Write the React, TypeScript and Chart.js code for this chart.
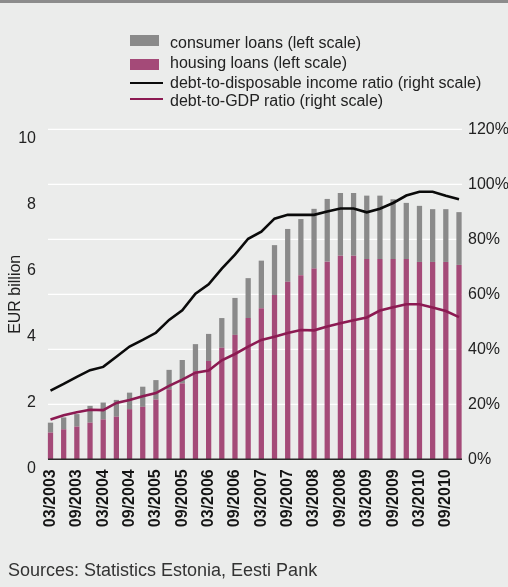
import React, { useEffect, useRef } from "react";
import { Chart, registerables } from "chart.js";

Chart.register(...registerables);

const quarters: string[] = [
  "03/2003", "06/2003", "09/2003", "12/2003",
  "03/2004", "06/2004", "09/2004", "12/2004",
  "03/2005", "06/2005", "09/2005", "12/2005",
  "03/2006", "06/2006", "09/2006", "12/2006",
  "03/2007", "06/2007", "09/2007", "12/2007",
  "03/2008", "06/2008", "09/2008", "12/2008",
  "03/2009", "06/2009", "09/2009", "12/2009",
  "03/2010", "06/2010", "09/2010", "12/2010",
];

const housingLoans: number[] = [
  0.81, 0.91, 0.99, 1.11, 1.21, 1.29, 1.52, 1.59,
  1.81, 2.12, 2.30, 2.67, 2.98, 3.38, 3.77, 4.28,
  4.58, 4.98, 5.38, 5.58, 5.78, 5.99, 6.17, 6.17,
  6.07, 6.07, 6.07, 6.07, 5.98, 5.98, 5.98, 5.89,
];

const consumerLoans: number[] = [
  0.30, 0.36, 0.38, 0.51, 0.51, 0.51, 0.50, 0.61,
  0.59, 0.59, 0.71, 0.82, 0.82, 0.90, 1.12, 1.21,
  1.44, 1.51, 1.60, 1.70, 1.81, 1.90, 1.90, 1.90,
  1.92, 1.92, 1.81, 1.70, 1.70, 1.60, 1.60, 1.60,
];

const debtToIncome: number[] = [
  25.0, 27.4, 30.0, 32.4, 33.6, 37.3, 41.0, 43.4,
  46.0, 50.7, 54.2, 60.2, 63.6, 69.3, 74.4, 80.2,
  82.8, 87.5, 88.9, 88.9, 88.9, 90.1, 91.2, 91.2,
  89.8, 91.1, 93.2, 95.9, 97.3, 97.3, 95.8, 94.6,
];

const debtToGdp: number[] = [
  14.5, 16.0, 17.1, 18.0, 17.9, 20.5, 21.6, 22.9,
  24.1, 26.7, 29.0, 31.5, 32.3, 36.0, 38.3, 41.0,
  43.4, 44.6, 45.9, 47.0, 46.9, 48.3, 49.5, 50.6,
  51.6, 54.1, 55.3, 56.4, 56.4, 55.2, 53.9, 51.7,
];

const legendLabels: string[] = [
  "consumer loans (left scale)",
  "housing loans (left scale)",
  "debt-to-disposable income ratio (right scale)",
  "debt-to-GDP ratio (right scale)",
];

const FONT = "'Liberation Sans', Arial, Helvetica, sans-serif";
const GRAY = "#8a8a8a";
const PINK = "#a44a78";
const BLACK = "#0a0a0a";
const MAGENTA = "#8c1a52";
const BG = "#ebeceb";
const TEXT = "#222222";

const gridPlugin = {
  id: "customGrid",
  beforeDatasetsDraw(chart: any) {
    const { ctx, chartArea } = chart;
    const y2 = chart.scales.y2;
    ctx.save();
    ctx.strokeStyle = "#ffffff";
    ctx.lineWidth = 1.2;
    y2.ticks.forEach((t: any) => {
      if (t.value === 0) return;
      const py = y2.getPixelForValue(t.value);
      ctx.beginPath();
      ctx.moveTo(chartArea.left - 2.5, py);
      ctx.lineTo(chartArea.right + 3, py);
      ctx.stroke();
    });
    ctx.restore();
  },
  afterDatasetsDraw(chart: any) {
    const { ctx, chartArea } = chart;
    const py = chart.scales.y.getPixelForValue(0);
    ctx.save();
    ctx.strokeStyle = "#2a2a2a";
    ctx.lineWidth = 1.4;
    ctx.beginPath();
    ctx.moveTo(chartArea.left - 2.5, py);
    ctx.lineTo(chartArea.right + 3, py);
    ctx.stroke();
    ctx.restore();
  },
};

export default function App() {
  const canvasRef = useRef<HTMLCanvasElement | null>(null);

  useEffect(() => {
    if (!canvasRef.current) return;
    Chart.defaults.font.family = FONT;
    const chart = new Chart(canvasRef.current, {
      type: "bar",
      data: {
        labels: quarters,
        datasets: [
          {
            type: "line",
            label: legendLabels[2],
            data: debtToIncome,
            yAxisID: "y2",
            borderColor: BLACK,
            borderWidth: 2.6,
            pointRadius: 0,
            tension: 0,
            fill: false,
            order: 0,
            clip: false,
          } as any,
          {
            type: "line",
            label: legendLabels[3],
            data: debtToGdp,
            yAxisID: "y2",
            borderColor: MAGENTA,
            borderWidth: 2.6,
            pointRadius: 0,
            tension: 0,
            fill: false,
            order: 0,
            clip: false,
          } as any,
          {
            type: "bar",
            label: legendLabels[1],
            data: housingLoans,
            yAxisID: "y",
            backgroundColor: PINK,
            stack: "loans",
            categoryPercentage: 1,
            barPercentage: 0.4,
            order: 1,
            clip: false,
          } as any,
          {
            type: "bar",
            label: legendLabels[0],
            data: consumerLoans,
            yAxisID: "y",
            backgroundColor: GRAY,
            stack: "loans",
            categoryPercentage: 1,
            barPercentage: 0.4,
            order: 1,
            clip: false,
          } as any,
        ],
      },
      options: {
        animation: false,
        responsive: false,
        maintainAspectRatio: false,
        layout: { padding: { top: 129.3, left: 0, right: 0, bottom: 0 } },
        plugins: {
          legend: { display: false },
          tooltip: { enabled: false },
        },
        scales: {
          x: {
            type: "category",
            stacked: true,
            offset: false,
            grid: { display: false, drawTicks: false },
            border: { display: false },
            ticks: {
              autoSkip: false,
              maxRotation: 90,
              minRotation: 90,
              padding: 10,
              color: "#151515",
              font: { size: 16, weight: "bold", family: FONT },
              callback: (_v: any, i: number) => (i % 2 === 0 ? quarters[i] : ""),
            },
            afterFit: (scale: any) => {
              scale.height = 587 - 459.3;
            },
          },
          y: {
            type: "linear",
            position: "left",
            stacked: true,
            min: 0,
            max: 10,
            grid: { display: false, drawTicks: false },
            border: { display: false },
            ticks: {
              stepSize: 2,
              padding: 14.5,
              labelOffset: 9.5,
              color: TEXT,
              font: { size: 16, family: FONT },
            },
            title: {
              display: true,
              text: "EUR billion",
              color: TEXT,
              font: { size: 16, family: FONT },
              padding: { top: 6, bottom: 0 },
            },
            afterFit: (scale: any) => {
              scale.width = 50.5;
            },
          },
          y2: {
            type: "linear",
            position: "right",
            stacked: false,
            min: 0,
            max: 120,
            grid: { display: false, drawTicks: false },
            border: { display: false },
            ticks: {
              stepSize: 20,
              padding: 9,
              color: TEXT,
              font: { size: 16, family: FONT },
              callback: (v: any) => `${v}%`,
            },
            afterFit: (scale: any) => {
              scale.width = 49;
            },
          },
        },
      },
      plugins: [gridPlugin],
    });
    return () => chart.destroy();
  }, []);

  const rowStyle = (center: number): React.CSSProperties => ({
    position: "absolute",
    left: 170,
    top: center - 10,
    height: 20,
    lineHeight: "20px",
    fontSize: 16,
    fontFamily: FONT,
    color: TEXT,
    whiteSpace: "nowrap",
  });

  return (
    <div
      style={{
        position: "absolute",
        left: 0,
        top: 0,
        width: 508,
        height: 587,
        background: BG,
        overflow: "hidden",
      }}
    >
      <div style={{ position: "absolute", left: 0, top: 0, width: 508, height: 3, background: "#8c8c8c" }} />
      <canvas
        ref={canvasRef}
        width={508}
        height={587}
        style={{ position: "absolute", left: 0, top: 0, width: 508, height: 587 }}
      />
      <div style={{ position: "absolute", left: 130, top: 35, width: 29, height: 11, background: GRAY }} />
      <div style={rowStyle(42.5)}>{legendLabels[0]}</div>
      <div style={{ position: "absolute", left: 130, top: 59, width: 29, height: 11, background: PINK }} />
      <div style={rowStyle(62.5)}>{legendLabels[1]}</div>
      <div style={{ position: "absolute", left: 130, top: 81.5, width: 33, height: 2.2, background: BLACK }} />
      <div style={rowStyle(82.5)}>{legendLabels[2]}</div>
      <div style={{ position: "absolute", left: 130, top: 98, width: 33, height: 2.2, background: MAGENTA }} />
      <div style={rowStyle(100.5)}>{legendLabels[3]}</div>
      <div
        style={{
          position: "absolute",
          left: 8,
          top: 558,
          height: 24,
          lineHeight: "24px",
          fontSize: 18,
          fontFamily: FONT,
          color: "#333333",
          whiteSpace: "nowrap",
        }}
      >
        Sources: Statistics Estonia, Eesti Pank
      </div>
    </div>
  );
}
